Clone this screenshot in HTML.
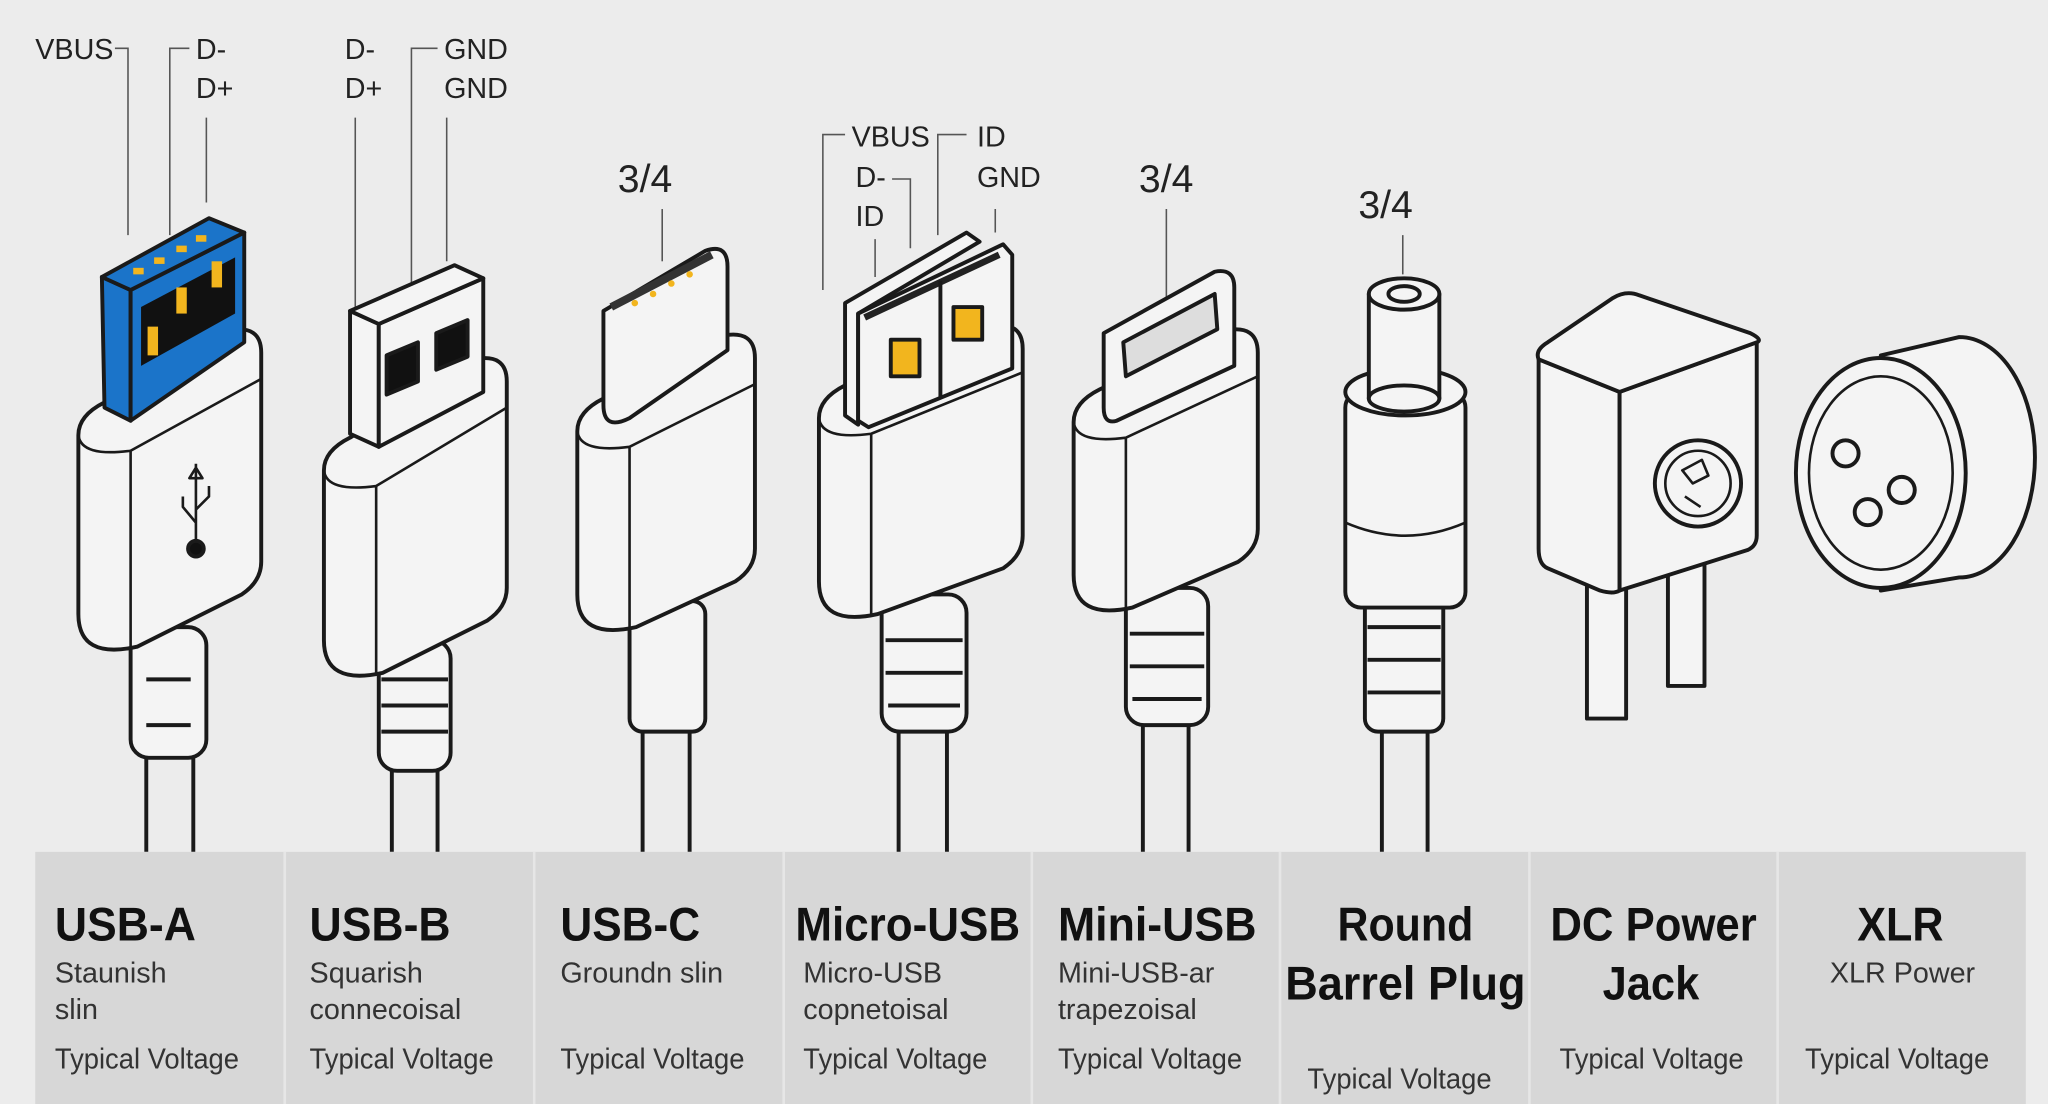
<!DOCTYPE html>
<html><head><meta charset="utf-8"><style>
html,body{margin:0;padding:0;background:#ececec;}
svg{display:block;}
text{font-family:"Liberation Sans",sans-serif;fill:#1e1e1e;}
.t{font-weight:bold;font-size:36px;fill:#111;}
.s{font-size:22px;fill:#333;}
.l{font-size:22px;fill:#222;}
</style></head><body>
<svg width="2048" height="1104" viewBox="0 0 1568 845" preserveAspectRatio="none" xmlns="http://www.w3.org/2000/svg">
<rect width="1568" height="845" fill="#ececec"/>
<g fill="none" stroke="#555" stroke-width="1.2">
<path d="M88,37H98V180M145,37H130V180M158,90V155"/>
<path d="M272,90V235M335,37H315V230M342,90V200"/>
<path d="M507,160V200"/>
<path d="M647,103H630V222M740,103H718V180M683,137H697V190M670,183V212M762,160V178"/>
<path d="M893,160V235M1074,180V210"/>
</g>
<g stroke="#1a1a1a" stroke-width="3" fill="#f4f4f4" stroke-linejoin="round">
<!-- cables -->
<path d="M112,570V652M148,570V652M300,580V652M335,580V652M492,550V652M528,550V652M688,550V652M725,550V652M875,550V652M910,550V652M1058,550V652M1093,550V652" fill="none"/>
<!-- reliefs -->
<rect x="100" y="480" width="58" height="100" rx="14"/>
<path d="M112,520h34M112,555h34" fill="none"/>
<rect x="290" y="490" width="55" height="100" rx="14"/>
<path d="M292,520h51M292,540h51M292,560h51" fill="none"/>
<rect x="482" y="460" width="58" height="100" rx="10"/>
<rect x="675" y="455" width="65" height="105" rx="14"/>
<path d="M678,490h59M678,515h59M680,540h55" fill="none"/>
<rect x="862" y="450" width="63" height="105" rx="14"/>
<path d="M865,485h57M865,510h57M867,535h53" fill="none"/>
<rect x="1045" y="455" width="60" height="105" rx="10"/>
<path d="M1047,480h56M1047,505h56M1047,530h56" fill="none"/>
<!-- housings -->
<path d="M60,333 Q60,318 80,308 L175,253 Q200,248 200,270 L200,430 Q200,445 185,455 L105,495 Q60,505 60,470 Z"/>
<path d="M60,333 Q62,350 100,345 L200,290 M100,345V495" fill="none" stroke-width="2"/>
<path d="M248,360 Q248,345 268,335 L363,275 Q388,270 388,292 L388,450 Q388,465 373,475 L293,515 Q248,525 248,490 Z"/>
<path d="M248,360 Q250,377 288,372 L388,312 M288,372V515" fill="none" stroke-width="2"/>
<path d="M442,330 Q442,315 462,305 L553,257 Q578,252 578,274 L578,420 Q578,435 563,445 L487,480 Q442,490 442,455 Z"/>
<path d="M442,330 Q444,347 482,342 L578,294 M482,342V480" fill="none" stroke-width="2"/>
<path d="M627,320 Q627,305 647,295 L758,250 Q783,245 783,267 L783,410 Q783,425 768,435 L672,470 Q627,480 627,445 Z"/>
<path d="M627,320 Q629,337 667,332 L783,285 M667,332V470" fill="none" stroke-width="2"/>
<path d="M822,323 Q822,308 842,298 L938,253 Q963,248 963,270 L963,405 Q963,420 948,430 L867,465 Q822,475 822,440 Z"/>
<path d="M822,323 Q824,340 862,335 L963,288 M862,335V465" fill="none" stroke-width="2"/>
<!-- USB-A head -->
<g fill="#1b74c9">
<polygon points="78,212 100,222 100,322 80,312"/>
<polygon points="100,222 187,178 187,262 100,322"/>
<polygon points="78,212 160,167 187,178 100,222"/>
</g>
<polygon points="108,235 180,197 180,240 108,280" fill="#111" stroke="none"/>
<g fill="#f2b51e" stroke="none">
<rect x="113" y="250" width="8" height="22"/><rect x="135" y="220" width="8" height="20"/><rect x="162" y="200" width="8" height="20"/>
<rect x="102" y="205" width="8" height="5"/><rect x="118" y="197" width="8" height="5"/><rect x="135" y="188" width="8" height="5"/><rect x="150" y="180" width="8" height="5"/>
</g>
<path d="M150,355V420M150,358l-5,8h10zM150,400l-10,-12v-8M150,390l10,-10v-8" fill="none" stroke-width="2"/>
<circle cx="150" cy="420" r="6" fill="#111"/>
<!-- USB-B head -->
<polygon points="268,238 290,248 290,342 268,332"/>
<polygon points="290,248 370,213 370,300 290,342"/>
<polygon points="268,238 348,203 370,213 290,248"/>
<polygon points="296,272 320,262 320,292 296,302" fill="#111"/>
<polygon points="334,255 358,245 358,273 334,283" fill="#111"/>
<!-- USB-C head -->
<path d="M462,238 L540,192 Q557,186 557,204 L557,268 L482,320 Q462,330 462,310 Z"/>
<path d="M468,235 L545,195" stroke-width="6" stroke="#333" fill="none"/>
<g fill="#f2b51e" stroke="none"><circle cx="486" cy="232" r="2.5"/><circle cx="500" cy="225" r="2.5"/><circle cx="514" cy="217" r="2.5"/><circle cx="528" cy="210" r="2.5"/></g>
<!-- Micro head -->
<polygon points="647,232 740,178 750,185 657,240 657,325 647,318"/>
<polygon points="657,240 768,187 775,195 775,282 665,327 657,322"/>
<path d="M662,243 L765,195" stroke="#222" stroke-width="5" fill="none"/>
<path d="M720,215V305" fill="none"/>
<rect x="682" y="260" width="22" height="28" fill="#f2b51e"/>
<rect x="730" y="235" width="22" height="25" fill="#f2b51e"/>
<!-- Mini head -->
<path d="M845,255 L930,208 Q945,205 945,220 L945,280 L855,322 Q845,325 845,312 Z"/>
<path d="M860,262 L930,225 L932,252 L862,288 Z" fill="#ddd"/>
<!-- Barrel -->
<rect x="1030" y="300" width="92" height="165" rx="12"/>
<ellipse cx="1076" cy="300" rx="46" ry="18"/>
<path d="M1030,400Q1076,420 1122,400" fill="none" stroke-width="2"/>
<rect x="1048" y="225" width="54" height="80"/>
<ellipse cx="1075" cy="305" rx="27" ry="10"/>
<ellipse cx="1075" cy="225" rx="27" ry="12"/>
<ellipse cx="1075" cy="225" rx="12" ry="6"/>
<!-- DC jack -->
<rect x="1215" y="430" width="30" height="120"/>
<rect x="1277" y="430" width="28" height="95"/>
<path d="M1178,275 L1240,300 L1240,452 Q1235,455 1225,452 L1185,435 Q1178,432 1178,420 Z"/>
<path d="M1240,300 L1345,262 L1345,410 Q1345,418 1338,421 L1240,452 Z"/>
<path d="M1178,275 Q1175,268 1185,262 L1235,228 Q1245,222 1255,226 L1340,255 Q1350,260 1345,262 L1240,300 Z"/>
<circle cx="1300" cy="370" r="33"/>
<circle cx="1300" cy="370" r="25" fill="none" stroke-width="2"/>
<path d="M1288,360l15,-8l5,12l-12,6zM1290,380l12,8" fill="none" stroke-width="2"/>
<!-- XLR -->
<path d="M1440,272 L1500,258 A58,92 0 0 1 1500,442 L1440,452 Z"/>
<ellipse cx="1440" cy="362" rx="65" ry="88"/>
<ellipse cx="1440" cy="362" rx="55" ry="74" fill="none" stroke-width="2"/>
<circle cx="1413" cy="347" r="10"/><circle cx="1456" cy="375" r="10"/><circle cx="1430" cy="392" r="10"/>
</g>
<!-- top labels -->
<text class="l" x="27" y="45">VBUS</text>
<text class="l" x="150" y="45">D-</text>
<text class="l" x="150" y="75">D+</text>
<text class="l" x="264" y="45">D-</text>
<text class="l" x="264" y="75">D+</text>
<text class="l" x="340" y="45">GND</text>
<text class="l" x="340" y="75">GND</text>
<text class="l" x="473" y="147" style="font-size:30px">3/4</text>
<text class="l" x="652" y="112">VBUS</text>
<text class="l" x="748" y="112">ID</text>
<text class="l" x="655" y="143">D-</text>
<text class="l" x="655" y="173">ID</text>
<text class="l" x="748" y="143">GND</text>
<text class="l" x="872" y="147" style="font-size:30px">3/4</text>
<text class="l" x="1040" y="167" style="font-size:30px">3/4</text>
<!-- bottom panel -->
<rect x="27" y="652" width="1524" height="193" fill="#d7d7d7"/>
<g stroke="#e6e6e6" stroke-width="2">
<path d="M218,652V845M409,652V845M600,652V845M790,652V845M980,652V845M1171,652V845M1361,652V845"/>
</g>
<text class="t" x="42" y="720" textLength="108" lengthAdjust="spacingAndGlyphs">USB-A</text>
<text class="t" x="237" y="720" textLength="108" lengthAdjust="spacingAndGlyphs">USB-B</text>
<text class="t" x="429" y="720" textLength="107" lengthAdjust="spacingAndGlyphs">USB-C</text>
<text class="t" x="609" y="720" textLength="172" lengthAdjust="spacingAndGlyphs">Micro-USB</text>
<text class="t" x="810" y="720" textLength="152" lengthAdjust="spacingAndGlyphs">Mini-USB</text>
<text class="t" x="1024" y="720" textLength="104" lengthAdjust="spacingAndGlyphs">Round</text>
<text class="t" x="984" y="765" textLength="184" lengthAdjust="spacingAndGlyphs">Barrel Plug</text>
<text class="t" x="1187" y="720" textLength="158" lengthAdjust="spacingAndGlyphs">DC Power</text>
<text class="t" x="1227" y="765" textLength="74" lengthAdjust="spacingAndGlyphs">Jack</text>
<text class="t" x="1422" y="720" textLength="66" lengthAdjust="spacingAndGlyphs">XLR</text>
<text class="s" x="42" y="752">Staunish</text>
<text class="s" x="42" y="780">slin</text>
<text class="s" x="237" y="752">Squarish</text>
<text class="s" x="237" y="780">connecoisal</text>
<text class="s" x="429" y="752">Groundn slin</text>
<text class="s" x="615" y="752">Micro-USB</text>
<text class="s" x="615" y="780">copnetoisal</text>
<text class="s" x="810" y="752">Mini-USB-ar</text>
<text class="s" x="810" y="780">trapezoisal</text>
<text class="s" x="1401" y="752">XLR Power</text>
<g class="s">
<text class="s" x="42" y="818" textLength="141" lengthAdjust="spacingAndGlyphs">Typical Voltage</text>
<text class="s" x="237" y="818" textLength="141" lengthAdjust="spacingAndGlyphs">Typical Voltage</text>
<text class="s" x="429" y="818" textLength="141" lengthAdjust="spacingAndGlyphs">Typical Voltage</text>
<text class="s" x="615" y="818" textLength="141" lengthAdjust="spacingAndGlyphs">Typical Voltage</text>
<text class="s" x="810" y="818" textLength="141" lengthAdjust="spacingAndGlyphs">Typical Voltage</text>
<text class="s" x="1001" y="833" textLength="141" lengthAdjust="spacingAndGlyphs">Typical Voltage</text>
<text class="s" x="1194" y="818" textLength="141" lengthAdjust="spacingAndGlyphs">Typical Voltage</text>
<text class="s" x="1382" y="818" textLength="141" lengthAdjust="spacingAndGlyphs">Typical Voltage</text>
</g>
</svg>
</body></html>
